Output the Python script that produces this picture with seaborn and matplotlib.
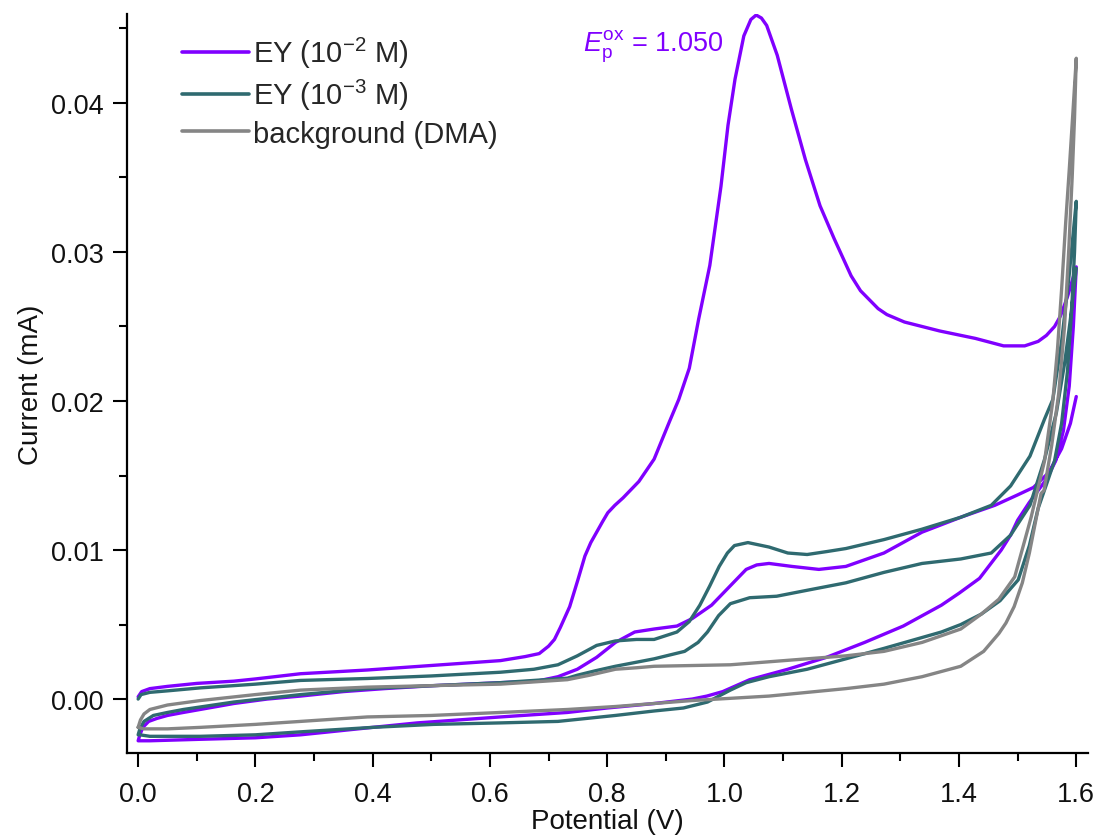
import numpy as np
import pandas as pd
import matplotlib
matplotlib.use("Agg")
import matplotlib.pyplot as plt
from matplotlib.ticker import MultipleLocator, FormatStrFormatter
import seaborn as sns

# ---------------- data ----------------
series_labels = ["EY (10$^{-2}$ M)", "EY (10$^{-3}$ M)", "background (DMA)"]
series_colors = ["#8000FF", "#2F6A70", "#858585"]

# EY 10^-2 M : cycle 1 forward -> cycle 1 reverse -> cycle 2 forward
ey2_potential = [
    0.000, 0.006, 0.020, 0.050, 0.100, 0.163, 0.200, 0.277, 0.391, 0.500, 0.618, 0.660, 0.684, 0.700,
    0.710, 0.720, 0.736, 0.750, 0.762, 0.772, 0.782, 0.792, 0.801, 0.813, 0.827, 0.854, 0.880, 0.906,
    0.922, 0.940, 0.956, 0.975, 0.994, 1.006, 1.018, 1.033, 1.045, 1.054, 1.063, 1.072, 1.090, 1.114,
    1.138, 1.163, 1.187, 1.216, 1.232, 1.247, 1.262, 1.277, 1.307, 1.367, 1.428, 1.476, 1.512, 1.535,
    1.549, 1.563, 1.573, 1.585, 1.600,
    1.595, 1.588, 1.578, 1.565, 1.550, 1.535, 1.520, 1.500, 1.488, 1.472, 1.435, 1.400, 1.370, 1.305,
    1.239, 1.174, 1.108, 1.043, 1.020, 0.997, 0.970, 0.945, 0.880, 0.800, 0.732, 0.618, 0.476, 0.400,
    0.277, 0.200, 0.106, 0.020, 0.003,
    0.000, 0.003, 0.008, 0.018, 0.032, 0.050, 0.077, 0.120, 0.163, 0.220, 0.277, 0.350, 0.420, 0.504,
    0.618, 0.680, 0.716, 0.749, 0.782, 0.814, 0.847, 0.880, 0.919, 0.945, 0.978, 1.010, 1.037, 1.055,
    1.076, 1.115, 1.161, 1.207, 1.272, 1.337, 1.403, 1.461, 1.500, 1.527, 1.553, 1.575, 1.590, 1.600,
]
ey2_current = [
    0.00015, 0.00050, 0.00070, 0.00085, 0.00105, 0.00120, 0.00135, 0.00170, 0.00195, 0.00225, 0.00258, 0.00285, 0.00305, 0.00355,
    0.00400, 0.00480, 0.00620, 0.00800, 0.00960, 0.01050, 0.01120, 0.01190, 0.01250, 0.01300, 0.01350, 0.01460, 0.01610, 0.01860,
    0.02010, 0.02220, 0.02550, 0.02910, 0.03440, 0.03850, 0.04160, 0.04450, 0.04560, 0.04590, 0.04570, 0.04520, 0.04320, 0.03960,
    0.03620, 0.03310, 0.03090, 0.02840, 0.02740, 0.02680, 0.02620, 0.02580, 0.02530, 0.02470, 0.02420, 0.02370, 0.02370, 0.02400,
    0.02440, 0.02500, 0.02570, 0.02700, 0.02900,
    0.02500, 0.02100, 0.01800, 0.01600, 0.01480, 0.01400, 0.01320, 0.01200, 0.01100, 0.01000, 0.00810, 0.00710, 0.00630, 0.00490,
    0.00380, 0.00280, 0.00200, 0.00130, 0.00090, 0.00050, 0.00020, 0.00000, -0.00030, -0.00060, -0.00090, -0.00120, -0.00160, -0.00190,
    -0.00240, -0.00260, -0.00270, -0.00280, -0.00280,
    -0.00280, -0.00240, -0.00190, -0.00150, -0.00130, -0.00110, -0.00090, -0.00060, -0.00030, 0.00000, 0.00020, 0.00050, 0.00070, 0.00090,
    0.00110, 0.00120, 0.00150, 0.00200, 0.00280, 0.00380, 0.00450, 0.00470, 0.00490, 0.00540, 0.00630, 0.00760, 0.00870, 0.00900,
    0.00910, 0.00890, 0.00870, 0.00890, 0.00980, 0.01120, 0.01220, 0.01300, 0.01370, 0.01420, 0.01520, 0.01680, 0.01850, 0.02030,
]

# EY 10^-3 M : cycle 1 forward -> cycle 1 reverse -> cycle 2 forward
ey3_potential = [
    0.000, 0.005, 0.020, 0.050, 0.106, 0.163, 0.200, 0.277, 0.391, 0.500, 0.618, 0.675, 0.716, 0.749,
    0.782, 0.814, 0.850, 0.880, 0.919, 0.940, 0.958, 0.975, 0.991, 1.005, 1.017, 1.040, 1.076, 1.108,
    1.141, 1.175, 1.207, 1.272, 1.337, 1.403, 1.455, 1.488, 1.521, 1.546, 1.560, 1.575, 1.588, 1.600,
    1.597, 1.592, 1.585, 1.575, 1.563, 1.550, 1.535, 1.520, 1.501, 1.470, 1.438, 1.403, 1.370, 1.272,
    1.207, 1.141, 1.076, 1.037, 1.010, 0.971, 0.930, 0.880, 0.814, 0.716, 0.618, 0.504, 0.400, 0.277,
    0.200, 0.106, 0.020, 0.003,
    0.000, 0.003, 0.010, 0.026, 0.050, 0.077, 0.163, 0.277, 0.391, 0.504, 0.618, 0.732, 0.749, 0.780,
    0.814, 0.880, 0.932, 0.955, 0.971, 0.990, 1.010, 1.043, 1.089, 1.141, 1.207, 1.272, 1.337, 1.403,
    1.455, 1.488, 1.521, 1.546, 1.566, 1.580, 1.590, 1.600,
]
ey3_current = [
    0.00000, 0.00030, 0.00045, 0.00055, 0.00075, 0.00090, 0.00100, 0.00125, 0.00138, 0.00155, 0.00180, 0.00200, 0.00230, 0.00290,
    0.00360, 0.00390, 0.00400, 0.00400, 0.00450, 0.00520, 0.00630, 0.00760, 0.00890, 0.00980, 0.01030, 0.01050, 0.01020, 0.00980,
    0.00970, 0.00990, 0.01010, 0.01070, 0.01140, 0.01220, 0.01300, 0.01430, 0.01630, 0.01880, 0.02010, 0.02400, 0.02850, 0.03340,
    0.03000, 0.02600, 0.02200, 0.01850, 0.01600, 0.01450, 0.01280, 0.01030, 0.00800, 0.00660, 0.00570, 0.00500, 0.00450, 0.00340,
    0.00270, 0.00200, 0.00150, 0.00110, 0.00060, -0.00020, -0.00060, -0.00080, -0.00110, -0.00150, -0.00160, -0.00170, -0.00190, -0.00220,
    -0.00240, -0.00250, -0.00250, -0.00240,
    -0.00240, -0.00200, -0.00150, -0.00110, -0.00090, -0.00070, -0.00020, 0.00030, 0.00070, 0.00090, 0.00110, 0.00140, 0.00160, 0.00190,
    0.00220, 0.00270, 0.00320, 0.00380, 0.00450, 0.00560, 0.00640, 0.00680, 0.00690, 0.00730, 0.00780, 0.00850, 0.00910, 0.00940,
    0.00980, 0.01100, 0.01300, 0.01610, 0.01920, 0.02250, 0.02550, 0.02890,
]

# background (DMA) : forward -> reverse
dma_potential = [
    0.000, 0.004, 0.010, 0.020, 0.050, 0.106, 0.200, 0.277, 0.391, 0.500, 0.618, 0.732, 0.770, 0.814,
    0.850, 0.880, 1.010, 1.141, 1.207, 1.272, 1.337, 1.403, 1.438, 1.468, 1.495, 1.523, 1.546, 1.560,
    1.568, 1.575, 1.582, 1.588, 1.594, 1.600,
    1.597, 1.593, 1.587, 1.580, 1.570, 1.558, 1.545, 1.540, 1.530, 1.520, 1.508, 1.494, 1.480, 1.468,
    1.442, 1.403, 1.337, 1.272, 1.207, 1.076, 0.945, 0.814, 0.732, 0.618, 0.500, 0.391, 0.277, 0.200,
    0.106, 0.050, 0.010, 0.000,
]
dma_current = [
    -0.00190, -0.00140, -0.00100, -0.00070, -0.00040, -0.00010, 0.00030, 0.00060, 0.00080, 0.00090, 0.00100, 0.00130, 0.00160, 0.00200,
    0.00210, 0.00220, 0.00230, 0.00270, 0.00290, 0.00320, 0.00380, 0.00470, 0.00570, 0.00670, 0.00820, 0.01220, 0.01600, 0.02000,
    0.02350, 0.02750, 0.03200, 0.03550, 0.03920, 0.04300,
    0.03900, 0.03500, 0.03000, 0.02500, 0.02050, 0.01700, 0.01400, 0.01380, 0.01180, 0.00980, 0.00780, 0.00620, 0.00510, 0.00440,
    0.00320, 0.00220, 0.00150, 0.00100, 0.00070, 0.00020, -0.00010, -0.00050, -0.00070, -0.00090, -0.00110, -0.00120, -0.00150, -0.00170,
    -0.00190, -0.00200, -0.00200, -0.00190,
]

peak_label = r"$E_{\mathrm{p}}^{\mathrm{ox}}$ = 1.050"
x_label = "Potential (V)"
y_label = "Current (mA)"

# ---------------- styling ----------------
sns.set_theme(style="ticks")
plt.rcParams["font.family"] = ["Liberation Sans", "DejaVu Sans"]
plt.rcParams["mathtext.fontset"] = "custom"
plt.rcParams["mathtext.rm"] = "Liberation Sans"
plt.rcParams["mathtext.it"] = "Liberation Sans:italic"
plt.rcParams["mathtext.bf"] = "Liberation Sans:bold"

fig = plt.figure(figsize=(11.01, 8.37), dpi=100)
ax = fig.add_axes([127 / 1101, 1 - 754 / 837, (1088 - 127) / 1101, (754 - 15) / 837])

frames = []
for lab, pot, cur in [(series_labels[0], ey2_potential, ey2_current),
                      (series_labels[1], ey3_potential, ey3_current),
                      (series_labels[2], dma_potential, dma_current)]:
    frames.append(pd.DataFrame({"Potential": pot, "Current": cur, "series": lab,
                                "order": np.arange(len(pot))}))
df = pd.concat(frames, ignore_index=True)

for lab, col in zip(series_labels, series_colors):
    sub = df[df["series"] == lab]
    sns.lineplot(data=sub, x="Potential", y="Current", sort=False, estimator=None,
                 color=col, linewidth=2.4, label=lab, ax=ax)

ax.set_xlim(-0.019, 1.62)
ax.set_ylim(-0.00362, 0.04597)

ax.xaxis.set_major_locator(MultipleLocator(0.2))
ax.xaxis.set_minor_locator(MultipleLocator(0.1))
ax.yaxis.set_major_locator(MultipleLocator(0.01))
ax.yaxis.set_minor_locator(MultipleLocator(0.005))
ax.xaxis.set_major_formatter(FormatStrFormatter("%.1f"))
ax.yaxis.set_major_formatter(FormatStrFormatter("%.2f"))

ax.tick_params(axis="both", which="major", length=10, width=1.5, labelsize=19.5, color="black",
               labelcolor="#111111", direction="out")
ax.tick_params(axis="both", which="minor", length=5.5, width=1.5, color="black", direction="out")
ax.tick_params(axis="x", which="major", pad=10)
ax.tick_params(axis="y", which="major", pad=7)

for side in ["top", "right"]:
    ax.spines[side].set_visible(False)
for side in ["left", "bottom"]:
    ax.spines[side].set_linewidth(1.6)
    ax.spines[side].set_color("black")

ax.set_xlabel(x_label, fontsize=20, labelpad=1, color="#111111")
ax.set_ylabel(y_label, fontsize=20, labelpad=5, color="#111111")

ax.text(0.758, 0.0435, peak_label, color="#8000FF", fontsize=19.5, ha="left", va="baseline")

leg = ax.legend(loc="upper left", bbox_to_anchor=(0.057, 0.972), frameon=False, fontsize=21,
                handlelength=2.3, handletextpad=0.15, labelspacing=0.25, borderaxespad=0,
                borderpad=0)
for h in leg.get_lines():
    h.set_linewidth(2.6)

fig.savefig("out.png", dpi=100)
